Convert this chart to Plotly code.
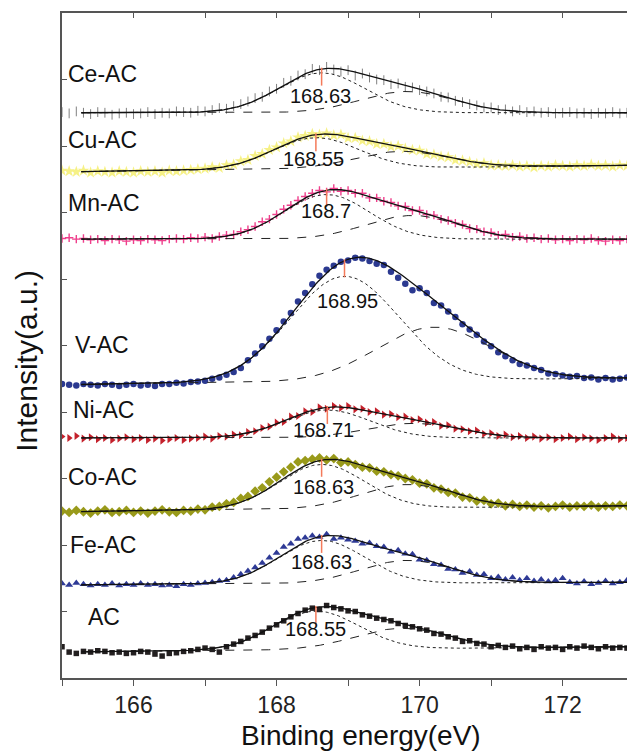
import numpy as np
import plotly.graph_objects as go

# ---------------- data (stacked S 2p spectra, a.u.) ----------------
samples = ["Ce-AC", "Cu-AC", "Mn-AC", "V-AC", "Ni-AC", "Co-AC", "Fe-AC", "AC"]
peak_labels = ["168.63", "168.55", "168.7", "168.95", "168.71", "168.63", "168.63", "168.55"]
e_start, e_step = 165.0, 0.1

ce_ac = [8.51, 8.49, 8.52, 8.50, 8.48, 8.51, 8.50, 8.47, 8.49, 8.50,
         8.48, 8.49, 8.51, 8.48, 8.50, 8.49, 8.52, 8.51, 8.50, 8.53,
         8.52, 8.54, 8.57, 8.56, 8.60, 8.63, 8.67, 8.72, 8.74, 8.82,
         8.86, 8.95, 8.98, 9.06, 9.08, 9.16, 9.14, 9.19, 9.15, 9.12,
         9.14, 9.06, 9.09, 9.03, 9.00, 8.99, 8.93, 8.94, 8.89, 8.88,
         8.84, 8.82, 8.79, 8.74, 8.73, 8.68, 8.66, 8.63, 8.61, 8.58,
         8.58, 8.54, 8.55, 8.52, 8.54, 8.51, 8.52, 8.50, 8.51, 8.49,
         8.50, 8.51, 8.49, 8.50, 8.48, 8.50, 8.49, 8.51, 8.49, 8.50]
cu_ac = [7.63, 7.62, 7.61, 7.63, 7.60, 7.62, 7.61, 7.60, 7.62, 7.61,
         7.60, 7.62, 7.61, 7.62, 7.60, 7.63, 7.62, 7.63, 7.64, 7.65,
         7.66, 7.68, 7.67, 7.71, 7.72, 7.77, 7.79, 7.85, 7.88, 7.94,
         7.98, 8.04, 8.07, 8.13, 8.15, 8.18, 8.17, 8.19, 8.16, 8.17,
         8.12, 8.12, 8.08, 8.07, 8.03, 8.03, 7.99, 8.00, 7.96, 7.94,
         7.93, 7.88, 7.87, 7.84, 7.83, 7.79, 7.78, 7.76, 7.73, 7.74,
         7.71, 7.71, 7.70, 7.71, 7.69, 7.70, 7.68, 7.70, 7.69, 7.71,
         7.70, 7.69, 7.71, 7.70, 7.72, 7.70, 7.71, 7.69, 7.71, 7.70]
mn_ac = [6.61, 6.62, 6.60, 6.61, 6.59, 6.60, 6.58, 6.60, 6.59, 6.57,
         6.59, 6.58, 6.60, 6.59, 6.58, 6.60, 6.61, 6.60, 6.62, 6.61,
         6.63, 6.61, 6.64, 6.66, 6.67, 6.71, 6.74, 6.79, 6.86, 6.90,
         6.97, 7.05, 7.11, 7.18, 7.24, 7.29, 7.33, 7.31, 7.36, 7.32,
         7.33, 7.29, 7.29, 7.22, 7.22, 7.17, 7.15, 7.10, 7.09, 7.03,
         7.03, 6.97, 6.96, 6.90, 6.88, 6.84, 6.82, 6.76, 6.75, 6.71,
         6.70, 6.66, 6.67, 6.63, 6.64, 6.61, 6.62, 6.60, 6.61, 6.59,
         6.60, 6.58, 6.60, 6.59, 6.61, 6.58, 6.57, 6.59, 6.58, 6.60]
v_ac = [4.42, 4.41, 4.40, 4.42, 4.41, 4.40, 4.42, 4.41, 4.39, 4.41,
        4.42, 4.40, 4.41, 4.39, 4.42, 4.42, 4.44, 4.43, 4.45, 4.46,
        4.47, 4.50, 4.52, 4.56, 4.60, 4.66, 4.78, 4.88, 4.99, 5.10,
        5.23, 5.36, 5.49, 5.66, 5.79, 5.92, 6.05, 6.14, 6.20, 6.26,
        6.28, 6.32, 6.31, 6.27, 6.23, 6.21, 6.11, 6.02, 5.93, 5.83,
        5.86, 5.79, 5.64, 5.60, 5.51, 5.43, 5.32, 5.24, 5.16, 5.06,
        4.99, 4.90, 4.84, 4.78, 4.72, 4.70, 4.66, 4.63, 4.58, 4.57,
        4.55, 4.53, 4.54, 4.51, 4.52, 4.49, 4.51, 4.49, 4.50, 4.52]
ni_ac = [3.63, 3.61, 3.64, 3.60, 3.62, 3.59, 3.61, 3.58, 3.60, 3.62,
         3.59, 3.61, 3.58, 3.60, 3.57, 3.59, 3.61, 3.58, 3.60, 3.61,
         3.63, 3.60, 3.64, 3.63, 3.66, 3.65, 3.70, 3.71, 3.76, 3.78,
         3.84, 3.85, 3.93, 3.94, 4.01, 4.00, 4.07, 4.05, 4.09, 4.06,
         4.09, 4.04, 4.05, 4.00, 4.01, 3.96, 3.97, 3.92, 3.93, 3.88,
         3.89, 3.84, 3.85, 3.79, 3.80, 3.75, 3.74, 3.71, 3.72, 3.67,
         3.68, 3.64, 3.66, 3.62, 3.64, 3.61, 3.63, 3.60, 3.62, 3.59,
         3.61, 3.63, 3.59, 3.62, 3.60, 3.58, 3.61, 3.63, 3.59, 3.61]
co_ac = [2.51, 2.49, 2.52, 2.50, 2.48, 2.51, 2.53, 2.49, 2.50, 2.52,
         2.49, 2.51, 2.48, 2.51, 2.53, 2.50, 2.49, 2.52, 2.51, 2.54,
         2.53, 2.57, 2.58, 2.62, 2.64, 2.70, 2.73, 2.81, 2.86, 2.95,
         3.02, 3.10, 3.17, 3.25, 3.27, 3.29, 3.31, 3.28, 3.30, 3.24,
         3.25, 3.21, 3.17, 3.16, 3.11, 3.10, 3.06, 3.04, 3.00, 2.98,
         2.93, 2.92, 2.86, 2.84, 2.79, 2.78, 2.72, 2.71, 2.66, 2.67,
         2.62, 2.63, 2.59, 2.61, 2.58, 2.60, 2.57, 2.59, 2.56, 2.58,
         2.60, 2.57, 2.59, 2.58, 2.60, 2.57, 2.59, 2.58, 2.60, 2.59]
fe_ac = [1.42, 1.40, 1.43, 1.41, 1.39, 1.41, 1.40, 1.42, 1.39, 1.41,
         1.40, 1.42, 1.40, 1.41, 1.39, 1.40, 1.38, 1.41, 1.40, 1.42,
         1.43, 1.44, 1.46, 1.47, 1.51, 1.56, 1.61, 1.66, 1.73, 1.81,
         1.88, 1.97, 2.02, 2.09, 2.11, 2.14, 2.12, 2.16, 2.09, 2.11,
         2.08, 2.06, 2.02, 2.03, 1.98, 1.97, 1.90, 1.92, 1.87, 1.86,
         1.78, 1.77, 1.71, 1.70, 1.64, 1.63, 1.58, 1.60, 1.55, 1.56,
         1.50, 1.52, 1.48, 1.51, 1.47, 1.50, 1.46, 1.48, 1.45, 1.47,
         1.50, 1.44, 1.42, 1.45, 1.41, 1.43, 1.46, 1.42, 1.44, 1.47]
ac = [0.47, 0.39, 0.37, 0.40, 0.39, 0.41, 0.40, 0.38, 0.39, 0.37,
      0.38, 0.40, 0.39, 0.36, 0.33, 0.37, 0.38, 0.40, 0.41, 0.43,
      0.45, 0.43, 0.39, 0.47, 0.51, 0.55, 0.60, 0.64, 0.69, 0.75,
      0.80, 0.86, 0.92, 0.97, 1.02, 1.05, 1.03, 1.09, 1.06, 1.04,
      1.01, 1.00, 0.95, 0.93, 0.90, 0.88, 0.86, 0.82, 0.79, 0.77,
      0.74, 0.72, 0.67, 0.66, 0.62, 0.60, 0.55, 0.56, 0.52, 0.51,
      0.47, 0.49, 0.46, 0.48, 0.44, 0.46, 0.43, 0.47, 0.45, 0.46,
      0.43, 0.47, 0.45, 0.48, 0.46, 0.44, 0.47, 0.45, 0.46, 0.45]
spectra = [ce_ac, cu_ac, mn_ac, v_ac, ni_ac, co_ac, fe_ac, ac]

# fit parameters: linear background (left, right), S2p3/2 (center, height, sigma), S2p1/2 (center, height, sigma)
bg_left = [8.50, 7.61, 6.60, 4.41, 3.61, 2.50, 1.40, 0.39]
bg_right = [8.50, 7.71, 6.60, 4.51, 3.61, 2.59, 1.44, 0.47]
p1_center = [168.63, 168.55, 168.70, 168.95, 168.71, 168.63, 168.63, 168.55]
p1_height = [0.60, 0.47, 0.67, 1.58, 0.42, 0.67, 0.65, 0.58]
p1_sigma = [0.60, 0.60, 0.60, 0.76, 0.60, 0.60, 0.60, 0.60]
p2_center = [169.83, 169.75, 169.90, 170.20, 169.91, 169.83, 169.83, 169.75]
p2_height = [0.32, 0.25, 0.355, 0.80, 0.22, 0.355, 0.345, 0.31]
p2_sigma = [0.65, 0.65, 0.65, 0.80, 0.65, 0.65, 0.65, 0.65]
fit_start, fit_end = 165.27, 172.9

# ---------------- styles / positions ----------------
marker_styles = [
    dict(symbol="line-ns-open", size=7, color="#808080", line=dict(color="#808080", width=1)),
    dict(symbol="star", size=9, color="#f6f186", line=dict(color="#f3ee7c", width=0)),
    dict(symbol="cross-thin-open", size=6, color="#ef3f8c", line=dict(color="#ef3f8c", width=1.4)),
    dict(symbol="circle", size=6.5, color="#2b3990", line=dict(width=0)),
    dict(symbol="triangle-right", size=7, color="#c4202b", line=dict(width=0)),
    dict(symbol="diamond", size=7.5, color="#999a1a", line=dict(width=0)),
    dict(symbol="triangle-up", size=7, color="#2e3a96", line=dict(width=0)),
    dict(symbol="square", size=5.5, color="#231f20", line=dict(width=0)),
]
name_pos = [(165.06, 9.08), (165.06, 8.09), (165.05, 7.14), (165.15, 5.01),
            (165.12, 4.03), (165.06, 3.02), (165.09, 2.00), (165.33, 0.92)]
peak_text_pos = [(168.62, 8.75), (168.52, 7.80), (168.69, 7.02), (168.99, 5.67),
                 (168.66, 3.73), (168.66, 2.87), (168.63, 1.74), (168.55, 0.74)]

FONT = "Liberation Sans, Arial, sans-serif"
fig = go.Figure()

def gauss(x, c, h, s):
    return h * np.exp(-(x - c) ** 2 / (2 * s ** 2))

xf = np.linspace(fit_start, fit_end, 400)
annotations = []
shapes = []
for k, name in enumerate(samples):
    vals = spectra[k]
    xd = np.round(e_start + e_step * np.arange(len(vals)), 2)
    fig.add_trace(go.Scatter(x=xd, y=vals, mode="markers", marker=marker_styles[k],
                             showlegend=False, cliponaxis=True))
    bg = bg_left[k] + (bg_right[k] - bg_left[k]) * (xf - e_start) / (fit_end - e_start)
    g1 = gauss(xf, p1_center[k], p1_height[k], p1_sigma[k])
    g2 = gauss(xf, p2_center[k], p2_height[k], p2_sigma[k])
    fig.add_trace(go.Scatter(x=xf, y=bg + g1, mode="lines",
                             line=dict(color="#222", width=1, dash="dot"), showlegend=False))
    fig.add_trace(go.Scatter(x=xf, y=bg + g2, mode="lines",
                             line=dict(color="#222", width=1, dash="dash"), showlegend=False))
    fig.add_trace(go.Scatter(x=xf, y=bg + g1 + g2, mode="lines",
                             line=dict(color="#111", width=1.3), showlegend=False))
    c = p1_center[k]
    bgc = bg_left[k] + (bg_right[k] - bg_left[k]) * (c - e_start) / (fit_end - e_start)
    top = bgc + gauss(c, p1_center[k], p1_height[k], p1_sigma[k]) + gauss(c, p2_center[k], p2_height[k], p2_sigma[k])
    shapes.append(dict(type="line", xref="x", yref="y", x0=c, x1=c, y0=top + 0.02, y1=top - 0.25,
                       line=dict(color="#f47a5a", width=1.5)))
    annotations.append(dict(x=name_pos[k][0], y=name_pos[k][1], xref="x", yref="y", text=name,
                            showarrow=False, xanchor="left", yanchor="middle",
                            font=dict(family=FONT, size=23, color="#111")))
    annotations.append(dict(x=peak_text_pos[k][0], y=peak_text_pos[k][1], xref="x", yref="y",
                            text=peak_labels[k], showarrow=False, xanchor="center", yanchor="middle",
                            font=dict(family=FONT, size=20, color="#111")))

# axis titles as annotations for exact placement
annotations.append(dict(x=0.529, y=-0.087, xref="paper", yref="paper", text="Binding energy(eV)",
                        showarrow=False, xanchor="center", yanchor="middle",
                        font=dict(family=FONT, size=28, color="#111")))
annotations.append(dict(x=-0.062, y=0.477, xref="paper", yref="paper", text="Intensity(a.u.)",
                        showarrow=False, xanchor="center", yanchor="middle", textangle=-90,
                        font=dict(family=FONT, size=30, color="#111")))

# invisible trace to carry top axis
fig.add_trace(go.Scatter(x=[166, 172], y=[5, 5], xaxis="x2", mode="markers",
                         marker=dict(opacity=0), showlegend=False, hoverinfo="skip"))

axis_col = "#555555"
fig.update_layout(
    width=627, height=754,
    margin=dict(l=62, r=0, t=13, b=76),
    paper_bgcolor="white", plot_bgcolor="white",
    font=dict(family=FONT, color="#111"),
    annotations=annotations, shapes=shapes,
    xaxis=dict(range=[165.0, 172.9], tickmode="linear", tick0=166, dtick=2,
               ticks="outside", ticklen=6, tickwidth=1.2, tickcolor=axis_col,
               minor=dict(tickmode="linear", tick0=165, dtick=1, ticks="outside", ticklen=6,
                          tickwidth=1.2, tickcolor=axis_col, showgrid=False),
               showline=True, linecolor=axis_col, linewidth=1.5, showgrid=False, zeroline=False,
               tickfont=dict(family=FONT, size=23, color="#222")),
    xaxis2=dict(range=[165.0, 172.9], overlaying="x", side="top", tickmode="linear", tick0=165,
                dtick=1, ticks="inside", ticklen=5, tickwidth=1.2, tickcolor=axis_col,
                showline=True, linecolor=axis_col, linewidth=1.5, showticklabels=False,
                showgrid=False, zeroline=False),
    yaxis=dict(range=[0, 10], tickmode="linear", tick0=0, dtick=1, ticks="inside", ticklen=5,
               tickwidth=1.2, tickcolor=axis_col, showline=True, linecolor=axis_col, linewidth=1.5,
               showticklabels=False, showgrid=False, zeroline=False),
)

fig.write_html("out.html")
